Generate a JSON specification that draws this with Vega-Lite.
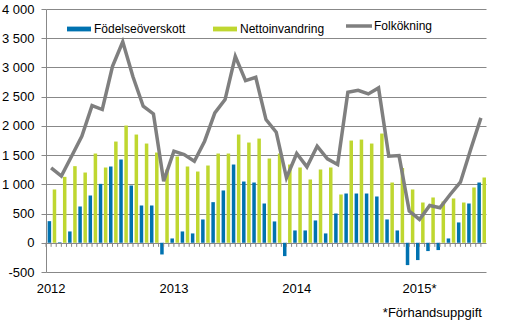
{
  "$schema": "https://vega.github.io/schema/vega-lite/v6.json",
  "width": 440,
  "height": 263,
  "autosize": {"type": "none"},
  "padding": {"left": 46, "top": 9, "right": 25, "bottom": 52},
  "background": "white",
  "config": {
    "font": "Liberation Sans",
    "view": {"stroke": null},
    "axis": {"labelFont": "Liberation Sans", "labelColor": "#000000"},
    "legend": {"labelFont": "Liberation Sans", "labelColor": "#000000"}
  },
  "title": {
    "text": "*Förhandsuppgift",
    "orient": "bottom",
    "anchor": "end",
    "fontSize": 13,
    "fontWeight": "normal",
    "font": "Liberation Sans",
    "color": "#000000",
    "offset": 12,
    "dx": -6
  },
  "data": {
    "values": [
      {"m": "2012-01", "f": 370, "n": 912, "t": 1282},
      {"m": "2012-02", "f": 10, "n": 1128, "t": 1140},
      {"m": "2012-03", "f": 194, "n": 1311, "t": 1480},
      {"m": "2012-04", "f": 621, "n": 1202, "t": 1823},
      {"m": "2012-05", "f": 809, "n": 1527, "t": 2347},
      {"m": "2012-06", "f": 1008, "n": 1288, "t": 2280},
      {"m": "2012-07", "f": 1305, "n": 1732, "t": 3020},
      {"m": "2012-08", "f": 1425, "n": 2006, "t": 3440},
      {"m": "2012-09", "f": 980, "n": 1852, "t": 2840},
      {"m": "2012-10", "f": 638, "n": 1698, "t": 2336},
      {"m": "2012-11", "f": 638, "n": 1544, "t": 2205},
      {"m": "2012-12", "f": -200, "n": 1254, "t": 1054},
      {"m": "2013-01", "f": 74, "n": 1476, "t": 1567},
      {"m": "2013-02", "f": 194, "n": 1305, "t": 1510},
      {"m": "2013-03", "f": 160, "n": 1219, "t": 1396},
      {"m": "2013-04", "f": 399, "n": 1322, "t": 1738},
      {"m": "2013-05", "f": 695, "n": 1527, "t": 2222},
      {"m": "2013-06", "f": 895, "n": 1527, "t": 2450},
      {"m": "2013-07", "f": 1339, "n": 1852, "t": 3191},
      {"m": "2013-08", "f": 1048, "n": 1715, "t": 2775},
      {"m": "2013-09", "f": 1031, "n": 1783, "t": 2832},
      {"m": "2013-10", "f": 672, "n": 1442, "t": 2108},
      {"m": "2013-11", "f": 365, "n": 1527, "t": 1892},
      {"m": "2013-12", "f": -228, "n": 1339, "t": 1111},
      {"m": "2014-01", "f": 211, "n": 1288, "t": 1527},
      {"m": "2014-02", "f": 211, "n": 1083, "t": 1299},
      {"m": "2014-03", "f": 382, "n": 1254, "t": 1653},
      {"m": "2014-04", "f": 160, "n": 1288, "t": 1436},
      {"m": "2014-05", "f": 501, "n": 826, "t": 1339},
      {"m": "2014-06", "f": 843, "n": 1749, "t": 2575},
      {"m": "2014-07", "f": 843, "n": 1766, "t": 2610},
      {"m": "2014-08", "f": 843, "n": 1698, "t": 2547},
      {"m": "2014-09", "f": 792, "n": 1869, "t": 2650},
      {"m": "2014-10", "f": 399, "n": 1031, "t": 1481},
      {"m": "2014-11", "f": 211, "n": 1280, "t": 1492},
      {"m": "2014-12", "f": -382, "n": 912, "t": 541},
      {"m": "2015-01", "f": -296, "n": 689, "t": 399},
      {"m": "2015-02", "f": -142, "n": 775, "t": 638},
      {"m": "2015-03", "f": -125, "n": 706, "t": 598},
      {"m": "2015-04", "f": 74, "n": 758, "t": 826},
      {"m": "2015-05", "f": 348, "n": 689, "t": 1037},
      {"m": "2015-06", "f": 672, "n": 946, "t": 1595},
      {"m": "2015-07", "f": 1031, "n": 1117, "t": 2137}
    ]
  },
  "encoding": {
    "x": {
      "field": "m",
      "type": "ordinal",
      "scale": {"paddingInner": 0, "paddingOuter": 0},
      "axis": {
        "title": null,
        "labelAngle": 0,
        "labelFontSize": 13,
        "ticks": false,
        "domain": false,
        "labelPadding": 10,
        "labelOverlap": false,
        "labelExpr": "slice(datum.value,5)=='01' ? (slice(datum.value,0,4) + (slice(datum.value,0,4)=='2015' ? '*' : '')) : ''"
      }
    }
  },
  "layer": [
    {
      "transform": [
        {"fold": ["f", "n"], "as": ["k", "v"]},
        {"calculate": "datum.k=='f' ? 'Födelseöverskott' : 'Nettoinvandring'", "as": "serie"}
      ],
      "mark": {"type": "bar"},
      "encoding": {
        "xOffset": {
          "field": "serie",
          "type": "nominal",
          "scale": {"domain": ["Födelseöverskott", "Nettoinvandring"], "paddingInner": 0.31, "paddingOuter": 0.16, "align": 1}
        },
        "y": {
          "field": "v",
          "type": "quantitative",
          "scale": {"domain": [-500, 4000], "nice": false},
          "axis": {
            "title": null,
            "values": [-500, 0, 500, 1000, 1500, 2000, 2500, 3000, 3500, 4000],
            "tickCount": 20,
            "labelFontSize": 13,
            "labelOverlap": false,
            "labelBound": false,
            "labelFlush": false,
            "labelExpr": "replace(replace(format(datum.value, ','), ',', ' '), '−', '-')",
            "grid": true,
            "gridColor": "#888888",
            "gridWidth": 1,
            "domain": true,
            "domainColor": "#888888",
            "tickColor": "#888888",
            "tickSize": 5,
            "labelPadding": 7
          }
        },
        "color": {
          "field": "serie",
          "type": "nominal",
          "scale": {"domain": ["Födelseöverskott", "Nettoinvandring"], "range": ["#0072B0", "#BFD730"]},
          "legend": {
            "title": null,
            "orient": "none",
            "direction": "horizontal",
            "legendX": 21,
            "legendY": 8,
            "padding": 0,
            "symbolType": "M-1,-0.2H1V0.2H-1Z",
            "symbolSize": 576,
            "symbolStrokeWidth": 0,
            "labelFontSize": 12,
            "labelOffset": 3,
            "columnPadding": 27
          }
        }
      }
    },
    {
      "mark": {"type": "line", "strokeWidth": 3.5},
      "encoding": {
        "y": {"field": "t", "type": "quantitative"},
        "stroke": {
          "datum": "Folkökning",
          "scale": {"range": ["#7F7F7F"]},
          "legend": {
            "title": null,
            "orient": "none",
            "legendX": 298,
            "legendY": 2,
            "padding": 0,
            "symbolType": "stroke",
            "symbolSize": 676,
            "symbolStrokeWidth": 3.5,
            "labelFontSize": 12,
            "labelOffset": 0
          }
        }
      }
    },
    {
      "mark": {"type": "rule", "color": "#888888", "strokeWidth": 1},
      "encoding": {
        "x": {"field": "m", "type": "ordinal", "bandPosition": 0},
        "y": {"datum": 0},
        "y2": {"datum": -70}
      }
    },
    {
      "mark": {"type": "rule", "color": "#888888", "strokeWidth": 1},
      "encoding": {
        "x": {"field": "m", "type": "ordinal", "bandPosition": 0.5},
        "y": {"datum": 0},
        "y2": {"datum": -70}
      }
    }
  ]
}
